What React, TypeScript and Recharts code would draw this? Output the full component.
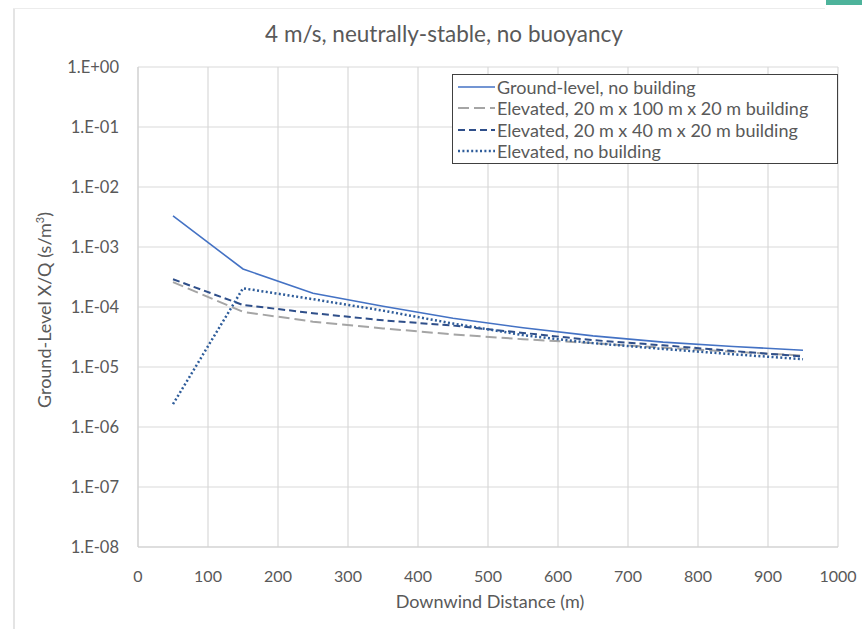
import React from "react";
import { LineChart, Line, XAxis, YAxis, CartesianGrid, Legend } from "recharts";

const distances = [50, 150, 250, 350, 450, 550, 650, 750, 850, 950];
const groundNoBuilding = [3.3e-3, 4.3e-4, 1.7e-4, 1.03e-4, 6.5e-5, 4.5e-5, 3.3e-5, 2.6e-5, 2.2e-5, 1.9e-5];
const elevBuilding100 = [2.6e-4, 8.3e-5, 5.7e-5, 4.4e-5, 3.5e-5, 2.9e-5, 2.5e-5, 2.1e-5, 1.8e-5, 1.55e-5];
const elevBuilding40 = [2.9e-4, 1.08e-4, 7.9e-5, 6.0e-5, 4.9e-5, 3.7e-5, 2.8e-5, 2.3e-5, 1.85e-5, 1.5e-5];
const elevNoBuilding = [2.4e-6, 2.05e-4, 1.35e-4, 8.7e-5, 5.3e-5, 3.4e-5, 2.5e-5, 2.0e-5, 1.63e-5, 1.35e-5];
const xTicks = [0, 100, 200, 300, 400, 500, 600, 700, 800, 900, 1000];
const yTicks = [1e-8, 1e-7, 1e-6, 1e-5, 1e-4, 1e-3, 1e-2, 1e-1, 1];

const series = [
  { key: "ground", name: "Ground-level, no building", color: "#4472C4", dash: undefined, width: 1.6 },
  { key: "b100", name: "Elevated, 20 m x 100 m x 20 m building", color: "#A5A5A5", dash: "11 5", width: 2 },
  { key: "b40", name: "Elevated, 20 m x 40 m x 20 m building", color: "#2F4F8A", dash: "7 4", width: 2 },
  { key: "nob", name: "Elevated, no building", color: "#2E5C9A", dash: "2 2.4", width: 2.5 },
];

const data = distances.map((d, i) => ({
  x: d,
  ground: groundNoBuilding[i],
  b100: elevBuilding100[i],
  b40: elevBuilding40[i],
  nob: elevNoBuilding[i],
}));

const FONT = "Lato, 'Open Sans', sans-serif";
const TXT = "#595959";

const fmtY = (v: number) => {
  const e = Math.round(Math.log10(v));
  const s = e < 0 ? "-" : "+";
  return `1.E${s}${String(Math.abs(e)).padStart(2, "0")}`;
};

function LegendBox() {
  return (
    <div
      style={{
        position: "absolute",
        left: 452,
        top: 74,
        width: 386,
        height: 90,
        border: "1.5px solid #404040",
        background: "#fff",
        fontFamily: FONT,
        fontSize: 18,
        color: TXT,
        boxSizing: "border-box",
        paddingTop: 1,
      }}
    >
      {series.map((s) => (
        <div key={s.key} style={{ display: "flex", alignItems: "center", height: 21.5 }}>
          <svg width={41} height={10} style={{ marginLeft: 3 }}>
            <line
              x1={2}
              y1={5}
              x2={39}
              y2={5}
              stroke={s.color}
              strokeWidth={s.width}
              strokeDasharray={s.dash}
            />
          </svg>
          <span style={{ whiteSpace: "nowrap" }}>{s.name}</span>
        </div>
      ))}
    </div>
  );
}

export default function App() {
  return (
    <div style={{ position: "absolute", left: 0, top: 0, width: 862, height: 629, background: "#fff", overflow: "hidden" }}>
      <div style={{ position: "absolute", left: 826, top: 0, width: 36, height: 5, background: "#4DB39B" }} />
      <div style={{ position: "absolute", left: 13, top: 8, width: 2, height: 621, background: "#e4e4e4" }} />
      <div style={{ position: "absolute", left: 13, top: 8, width: 812, height: 1, background: "#ececec" }} />
      <div
        style={{
          position: "absolute",
          left: 0,
          width: 888,
          top: 20,
          textAlign: "center",
          fontFamily: FONT,
          fontSize: 22.5,
          color: TXT,
        }}
      >
        4 m/s, neutrally-stable, no buoyancy
      </div>
      <div
        style={{
          position: "absolute",
          left: 0,
          width: 980,
          top: 590,
          textAlign: "center",
          fontFamily: FONT,
          fontSize: 18,
          color: TXT,
        }}
      >
        Downwind Distance (m)
      </div>
      <div
        style={{
          position: "absolute",
          left: 44,
          top: 310,
          transform: "translate(-50%, -50%) rotate(-90deg)",
          fontFamily: FONT,
          fontSize: 18,
          color: TXT,
          whiteSpace: "nowrap",
        }}
      >
        Ground-Level X/Q (s/m<sup style={{ fontSize: 11 }}>3</sup>)
      </div>
      <div style={{ position: "absolute", left: 0, top: 0 }}>
        <LineChart width={862} height={629} data={data} margin={{ top: 67, right: 24, bottom: 52, left: 58 }}>
          <CartesianGrid stroke="#d9d9d9" strokeWidth={1.2} />
          <XAxis
            dataKey="x"
            type="number"
            domain={[0, 1000]}
            ticks={xTicks}
            interval={0}
            height={30}
            tickLine={false}
            axisLine={{ stroke: "#d0d0d0" }}
            tick={{ fill: TXT, fontSize: 16, fontFamily: FONT }}
            tickMargin={18}
          />
          <YAxis
            type="number"
            scale="log"
            domain={[1e-8, 1]}
            ticks={yTicks}
            interval={0}
            allowDataOverflow
            tickFormatter={fmtY}
            tickLine={false}
            axisLine={{ stroke: "#d0d0d0" }}
            tick={{ fill: TXT, fontSize: 16.5, fontFamily: FONT }}
            width={80}
            tickMargin={13}
          />
          {series.map((s) => (
            <Line
              key={s.key}
              dataKey={s.key}
              name={s.name}
              type="linear"
              stroke={s.color}
              strokeWidth={s.width}
              strokeDasharray={s.dash}
              dot={false}
              activeDot={false}
              isAnimationActive={false}
            />
          ))}
          <Legend content={() => null} />
        </LineChart>
        <LegendBox />
      </div>
    </div>
  );
}
